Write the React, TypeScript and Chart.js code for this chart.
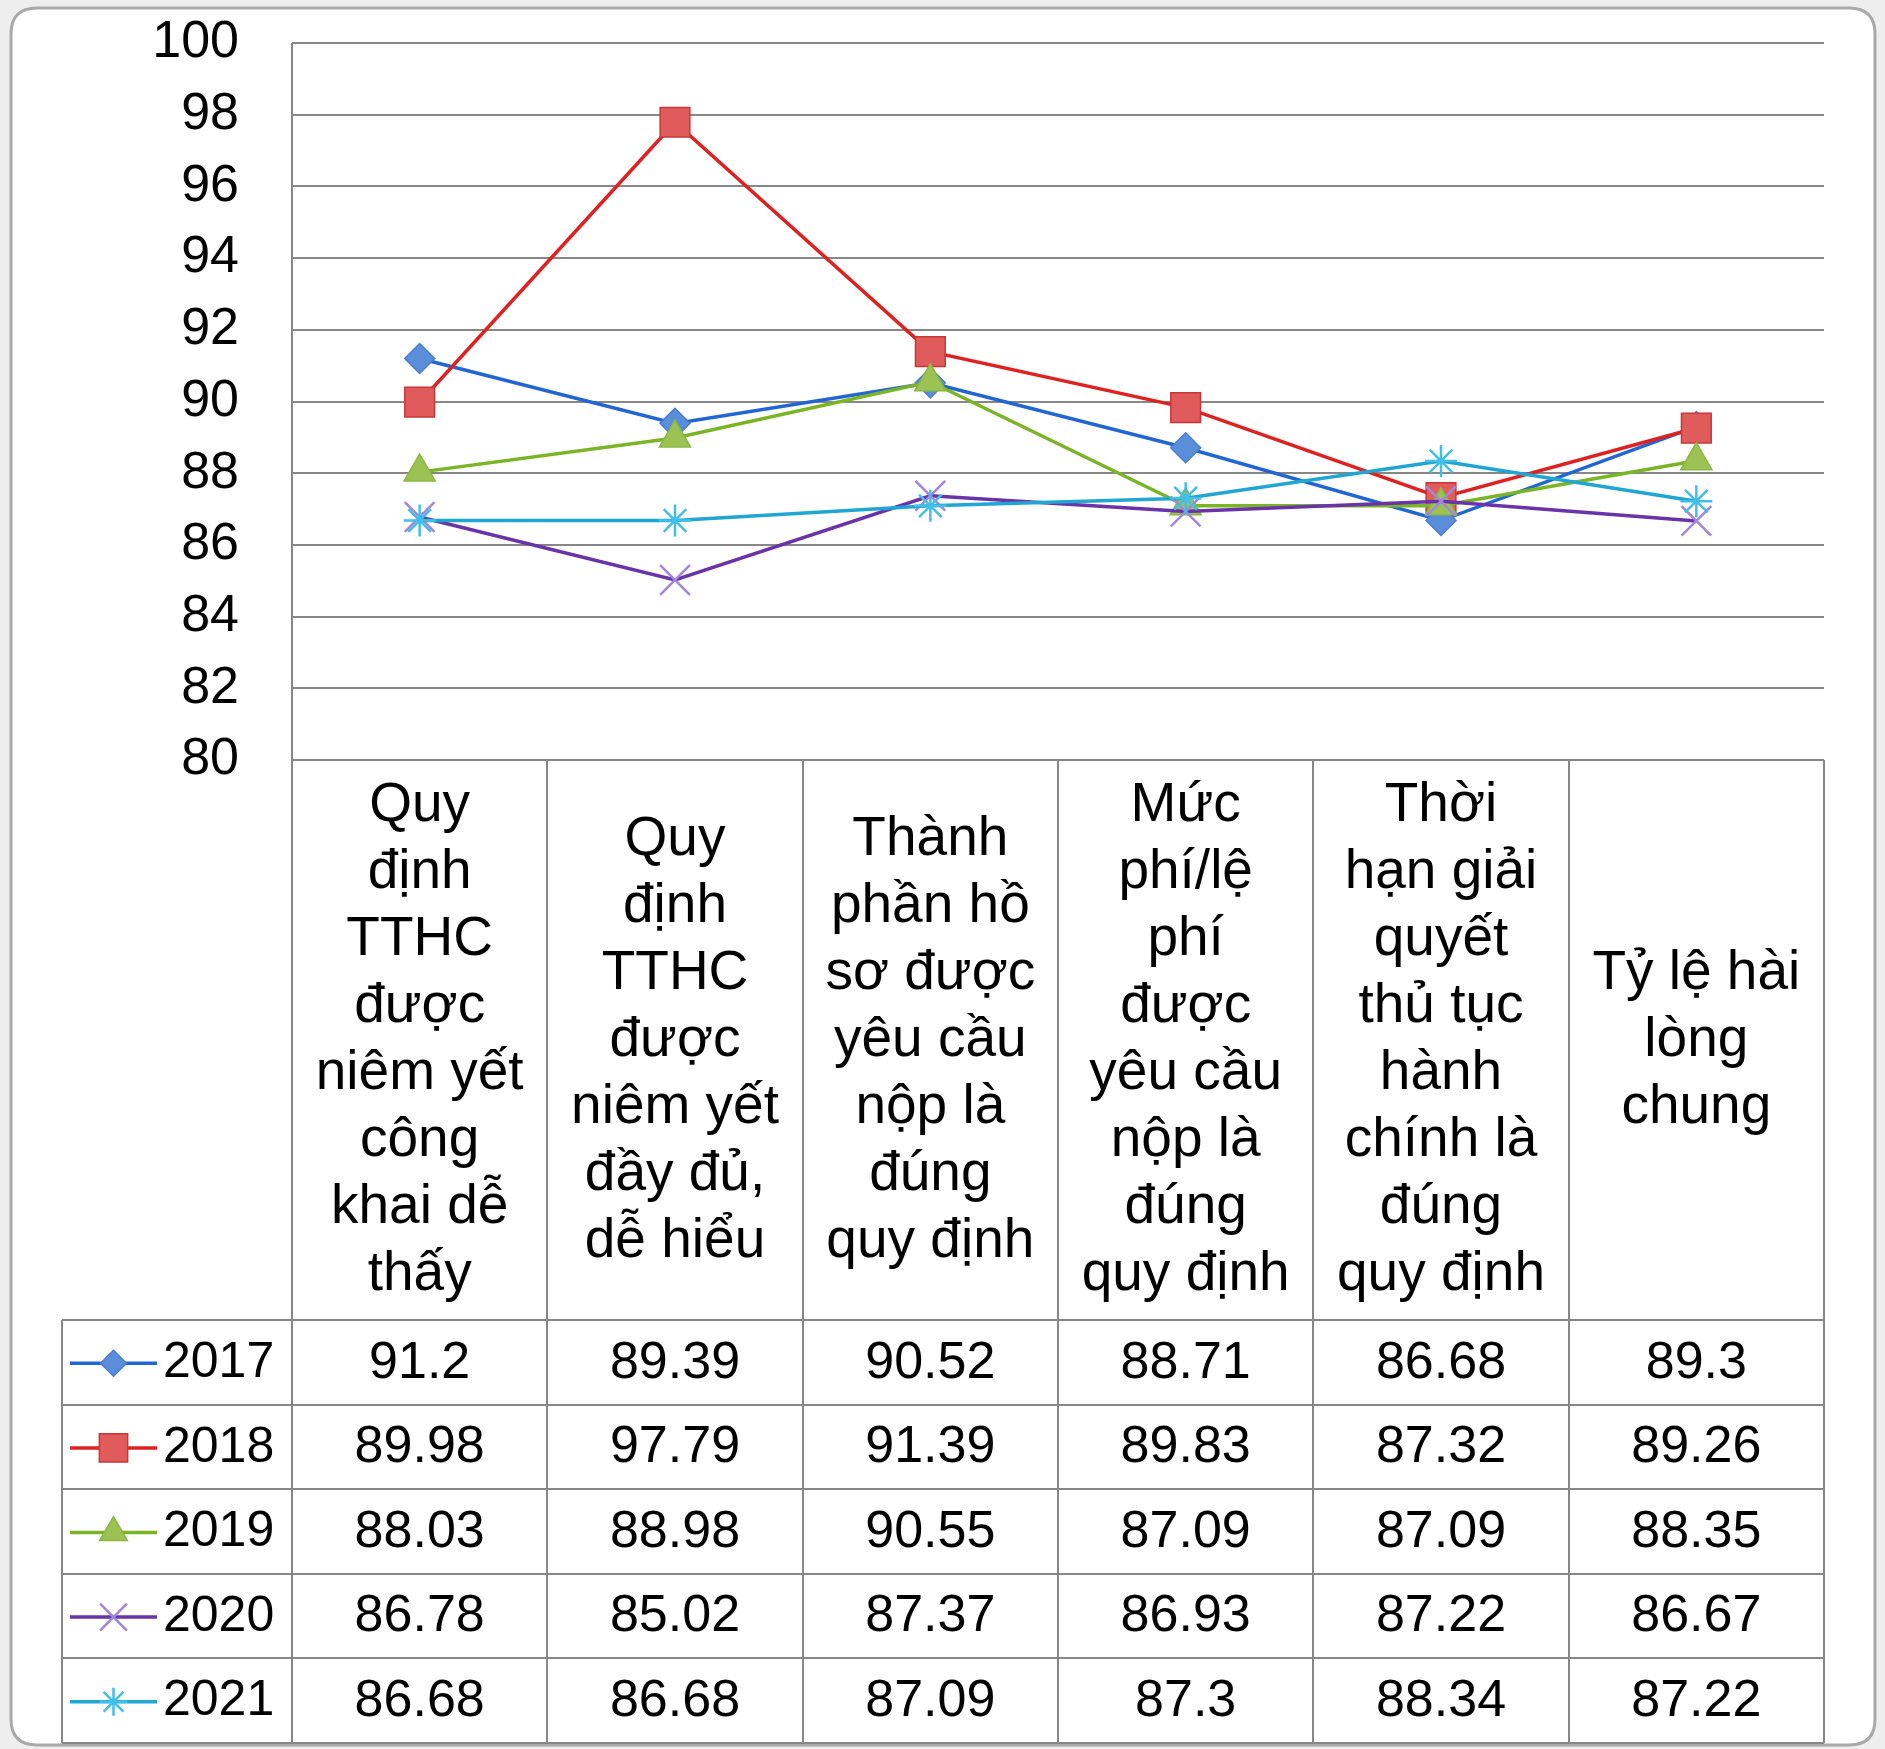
import React, { useEffect, useRef } from "react";
import { Chart, registerables } from "chart.js";

Chart.register(...registerables);

// ---------- data ----------
const categories: string[][] = [
  ["Quy", "định", "TTHC", "được", "niêm yết", "công", "khai dễ", "thấy"],
  ["Quy", "định", "TTHC", "được", "niêm yết", "đầy đủ,", "dễ hiểu"],
  ["Thành", "phần hồ", "sơ được", "yêu cầu", "nộp là", "đúng", "quy định"],
  ["Mức", "phí/lệ", "phí", "được", "yêu cầu", "nộp là", "đúng", "quy định"],
  ["Thời", "hạn giải", "quyết", "thủ tục", "hành", "chính là", "đúng", "quy định"],
  ["Tỷ lệ hài", "lòng", "chung"],
];

const years = ["2017", "2018", "2019", "2020", "2021"];

const values2017 = [91.2, 89.39, 90.52, 88.71, 86.68, 89.3];
const values2018 = [89.98, 97.79, 91.39, 89.83, 87.32, 89.26];
const values2019 = [88.03, 88.98, 90.55, 87.09, 87.09, 88.35];
const values2020 = [86.78, 85.02, 87.37, 86.93, 87.22, 86.67];
const values2021 = [86.68, 86.68, 87.09, 87.3, 88.34, 87.22];

const seriesValues = [values2017, values2018, values2019, values2020, values2021];

const yMin = 80;
const yMax = 100;
const yStep = 2;

// ---------- styles ----------
const FONT = '"Liberation Sans", Arial, sans-serif';
const lineColors = ["#2266d4", "#de2222", "#7ab526", "#6a33a8", "#20a6d2"];
const markerFills = ["#5a8ed8", "#e05c5c", "#9dc254", "#a286dc", "#42bfe8"];
const markerBorders = ["#4a7fd0", "#cc3535", "#8ab840", "#a286dc", "#42bfe8"];
const markerStyles = ["rectRot", "rect", "triangle", "crossRot", "star"];
const markerRadii = [15, 21, 18, 21, 16];
const gridColor = "#878787";

function drawMarker(
  ctx: CanvasRenderingContext2D,
  style: string,
  x: number,
  y: number,
  r: number,
  fill: string,
  stroke: string
) {
  ctx.save();
  ctx.beginPath();
  let filled = true;
  if (style === "rectRot") {
    ctx.moveTo(x - r, y);
    ctx.lineTo(x, y - r);
    ctx.lineTo(x + r, y);
    ctx.lineTo(x, y + r);
    ctx.closePath();
  } else if (style === "rect") {
    const s = r * Math.SQRT1_2;
    ctx.rect(x - s, y - s, 2 * s, 2 * s);
  } else if (style === "triangle") {
    let a = 0;
    ctx.moveTo(x + Math.sin(a) * r, y - Math.cos(a) * r);
    a += (2 * Math.PI) / 3;
    ctx.lineTo(x + Math.sin(a) * r, y - Math.cos(a) * r);
    a += (2 * Math.PI) / 3;
    ctx.lineTo(x + Math.sin(a) * r, y - Math.cos(a) * r);
    ctx.closePath();
  } else if (style === "crossRot") {
    filled = false;
    const d = r * Math.SQRT1_2;
    ctx.moveTo(x - d, y - d);
    ctx.lineTo(x + d, y + d);
    ctx.moveTo(x - d, y + d);
    ctx.lineTo(x + d, y - d);
  } else if (style === "star") {
    filled = false;
    const d = r * Math.SQRT1_2;
    ctx.moveTo(x, y - r);
    ctx.lineTo(x, y + r);
    ctx.moveTo(x - r, y);
    ctx.lineTo(x + r, y);
    ctx.moveTo(x - d, y - d);
    ctx.lineTo(x + d, y + d);
    ctx.moveTo(x - d, y + d);
    ctx.lineTo(x + d, y - d);
  }
  if (filled) {
    ctx.fillStyle = fill;
    ctx.fill();
    ctx.lineWidth = 1.5;
  } else {
    ctx.lineWidth = 2.5;
  }
  ctx.strokeStyle = stroke;
  ctx.stroke();
  ctx.restore();
}

const tablePlugin = {
  id: "frameAndTable",
  beforeDraw(chart: any) {
    const ctx: CanvasRenderingContext2D = chart.ctx;
    const W = chart.width;
    const H = chart.height;
    ctx.save();
    ctx.fillStyle = "#eeeeee";
    ctx.fillRect(0, 0, W, H);
    const fx = 11, fy = 8, fw = W - 21, fh = H - 12, rad = 26;
    ctx.beginPath();
    ctx.moveTo(fx + rad, fy);
    ctx.lineTo(fx + fw - rad, fy);
    ctx.quadraticCurveTo(fx + fw, fy, fx + fw, fy + rad);
    ctx.lineTo(fx + fw, fy + fh - rad);
    ctx.quadraticCurveTo(fx + fw, fy + fh, fx + fw - rad, fy + fh);
    ctx.lineTo(fx + rad, fy + fh);
    ctx.quadraticCurveTo(fx, fy + fh, fx, fy + fh - rad);
    ctx.lineTo(fx, fy + rad);
    ctx.quadraticCurveTo(fx, fy, fx + rad, fy);
    ctx.closePath();
    ctx.fillStyle = "#ffffff";
    ctx.fill();
    ctx.strokeStyle = "#a9a9a9";
    ctx.lineWidth = 3;
    ctx.stroke();
    ctx.restore();
  },
  afterDraw(chart: any) {
    const ctx: CanvasRenderingContext2D = chart.ctx;
    const area = chart.chartArea;
    const xs = chart.scales.x;
    const n = categories.length;
    const left = area.left;
    const right = area.right;
    const colW = (right - left) / n;
    const boxTop = area.bottom;
    const tableTop = xs.bottom;
    const tableBottom = chart.height - 6;
    const rowH = (tableBottom - tableTop) / years.length;
    const legendLeft = 62;

    ctx.save();
    ctx.strokeStyle = gridColor;
    ctx.lineWidth = 2;
    ctx.beginPath();
    // left axis line
    ctx.moveTo(left, area.top);
    ctx.lineTo(left, tableBottom);
    // column boundaries
    for (let i = 1; i <= n; i++) {
      const x = Math.round(left + i * colW);
      ctx.moveTo(x, boxTop);
      ctx.lineTo(x, tableBottom);
    }
    // row lines
    for (let r = 0; r <= years.length; r++) {
      const y = Math.round(tableTop + r * rowH);
      ctx.moveTo(legendLeft, y);
      ctx.lineTo(right, y);
    }
    ctx.moveTo(legendLeft, tableTop);
    ctx.lineTo(legendLeft, tableBottom);
    ctx.stroke();

    // values and legend
    ctx.fillStyle = "#000";
    ctx.textBaseline = "middle";
    for (let r = 0; r < years.length; r++) {
      const cy = tableTop + (r + 0.5) * rowH + 1;
      // legend symbol
      const lx1 = legendLeft + 8;
      const lx2 = legendLeft + 95;
      ctx.beginPath();
      ctx.strokeStyle = lineColors[r];
      ctx.lineWidth = 3.5;
      ctx.moveTo(lx1, cy);
      ctx.lineTo(lx2, cy);
      ctx.stroke();
      drawMarker(
        ctx,
        markerStyles[r],
        (lx1 + lx2) / 2,
        cy,
        markerStyles[r] === "rect" ? 20 : markerRadii[r] - 2,
        markerFills[r],
        markerBorders[r]
      );
      ctx.fillStyle = "#000";
      ctx.font = `50px ${FONT}`;
      ctx.textAlign = "left";
      ctx.fillText(years[r], legendLeft + 101, cy);
      ctx.font = `52px ${FONT}`;
      ctx.textAlign = "center";
      for (let c = 0; c < n; c++) {
        const x = xs.getPixelForTick(c);
        ctx.fillText(String(seriesValues[r][c]), x, cy);
      }
    }
    ctx.restore();
  },
};

export default function App() {
  const canvasRef = useRef<HTMLCanvasElement | null>(null);

  useEffect(() => {
    if (!canvasRef.current) return;
    const datasets = years.map((yr, i) => ({
      label: yr,
      data: seriesValues[i],
      borderColor: lineColors[i],
      backgroundColor: lineColors[i],
      borderWidth: 3.5,
      tension: 0,
      pointStyle: markerStyles[i] as any,
      pointRadius: markerRadii[i],
      pointHoverRadius: markerRadii[i],
      pointBackgroundColor: markerFills[i],
      pointBorderColor: markerBorders[i],
      pointBorderWidth: markerStyles[i] === "crossRot" || markerStyles[i] === "star" ? 2.5 : 1.5,
      order: years.length - 1 - i,
      fill: false,
    }));

    const chart = new Chart(canvasRef.current, {
      type: "line",
      data: { labels: categories as any, datasets },
      plugins: [tablePlugin],
      options: {
        animation: false,
        responsive: true,
        maintainAspectRatio: false,
        layout: { padding: { top: 43, right: 61, bottom: 429, left: 0 } },
        plugins: {
          legend: { display: false },
          tooltip: { enabled: false },
        },
        scales: {
          x: {
            type: "category",
            offset: true,
            grid: { display: false, drawTicks: false },
            border: { display: false },
            afterFit: (scale: any) => {
              scale.height = 560;
            },
            ticks: {
              autoSkip: false,
              maxRotation: 0,
              minRotation: 0,
              crossAlign: "center",
              padding: 46,
              color: "#000",
              font: { family: FONT, size: 55, lineHeight: 67 / 55 },
            },
          },
          y: {
            min: yMin,
            max: yMax,
            afterFit: (scale: any) => {
              scale.width = 292;
            },
            grid: {
              color: gridColor,
              lineWidth: 2,
              drawTicks: true,
              tickLength: 53,
              tickColor: "rgba(0,0,0,0)",
            },
            border: { display: false },
            ticks: {
              stepSize: yStep,
              padding: 0,
              color: "#000",
              font: { family: FONT, size: 52 },
            },
          },
        },
      },
    });
    return () => chart.destroy();
  }, []);

  return (
    <div style={{ position: "fixed", left: 0, top: 0, width: 1885, height: 1749 }}>
      <canvas ref={canvasRef} />
    </div>
  );
}
